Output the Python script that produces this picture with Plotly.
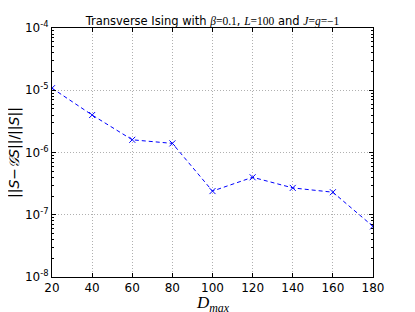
import plotly.graph_objects as go

d_max = [20, 40, 60, 80, 100, 120, 140, 160, 180]
rel_err = [1.08e-5, 4.0e-6, 1.6e-6, 1.4e-6, 2.4e-7, 4.0e-7, 2.7e-7, 2.3e-7, 6.5e-8]
x_ticks = [20, 40, 60, 80, 100, 120, 140, 160, 180]
y_ticks = [1e-8, 1e-7, 1e-6, 1e-5, 1e-4]
y_tick_text = ["10<sup>-8</sup>", "10<sup>-7</sup>", "10<sup>-6</sup>", "10<sup>-5</sup>", "10<sup>-4</sup>"]

fig = go.Figure()
fig.add_trace(go.Scatter(
    x=d_max, y=rel_err, mode="lines+markers",
    line=dict(color="#0000ff", dash="4px,3px", width=1),
    marker=dict(symbol="x-thin", size=6, color="#0000ff", line=dict(color="#0000ff", width=1)),
    showlegend=False,
))

font = "DejaVu Sans, sans-serif"
serif = "font-family:'Liberation Serif',serif"
m = lambda s: f"<span style=\"{serif}\"><i>{s}</i></span>"
sm = lambda s: f"<span style=\"{serif}\">{s}</span>"

# page body has an 8px margin: figure is drawn 8px in from the top-left corner
fig.update_layout(
    width=407, height=304,
    margin=dict(l=44, r=42, t=20, b=35),
    paper_bgcolor="white", plot_bgcolor="white",
    font=dict(family=font, color="black", size=12),
    title=dict(text=("Transverse Ising with " + m("β") + sm("=0.1") + ", " + m("L") + sm("=100")
                     + " and " + m("J") + sm("=") + m("g") + sm("=−1")),
               x=0.5, xref="paper", y=1, yref="paper", yanchor="bottom", pad=dict(b=3),
               font=dict(size=11.5, family=font)),
    annotations=[
        dict(text=m("D") + "<sub>" + m("max") + "</sub>", xref="paper", yref="paper",
             x=0.5, y=0, xanchor="center", yanchor="top", yshift=-14, showarrow=False,
             font=dict(size=17, family="Liberation Serif, serif")),
        dict(text="||<i>S</i>−<i>𝒢S</i>||/||<i>S</i>||", xref="paper", yref="paper",
             x=0, y=0.5, xanchor="center", yanchor="middle", xshift=-37.5, textangle=-90,
             showarrow=False, font=dict(size=14, family=font)),
    ],
)
fig.update_xaxes(
    range=[20, 180], tickvals=x_ticks, ticks="inside", ticklen=4, tickcolor="black",
    showline=True, linecolor="black", linewidth=1, mirror="ticks",
    showgrid=True, gridcolor="#b0b0b0", griddash="1px,2px", gridwidth=1,
    zeroline=False, tickfont=dict(size=12), automargin=False,
)
fig.update_yaxes(
    type="log", range=[-8, -4], tickvals=y_ticks, ticktext=y_tick_text,
    ticks="inside", ticklen=4, tickcolor="black",
    showline=True, linecolor="black", linewidth=1, mirror="ticks",
    showgrid=True, gridcolor="#b0b0b0", griddash="1px,2px", gridwidth=1,
    zeroline=False, tickfont=dict(size=12), automargin=False,
    minor=dict(ticks="inside", ticklen=2, tickcolor="black", showgrid=False, dtick="D1"),
)
fig.write_html("out.html")
